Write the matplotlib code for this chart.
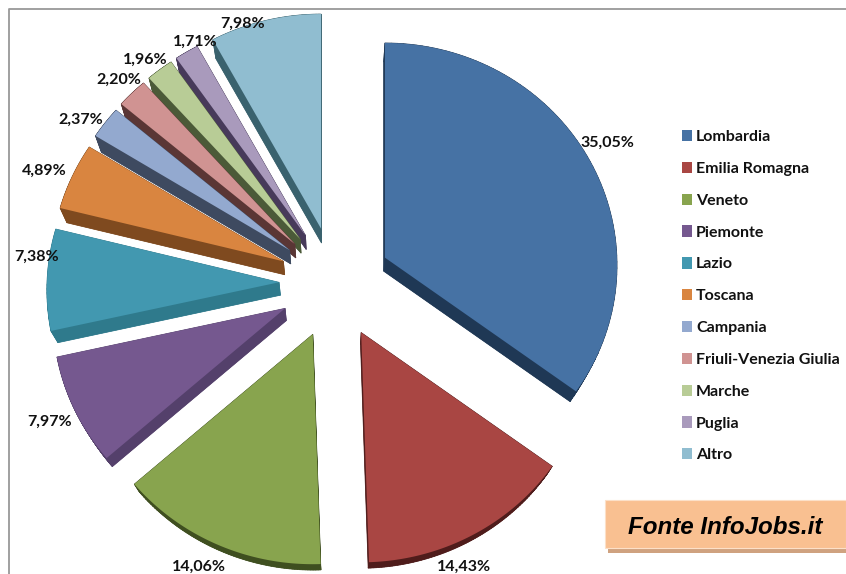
import numpy as np
import matplotlib
matplotlib.use("Agg")
import matplotlib.pyplot as plt
from matplotlib.patches import Patch, Rectangle

regions = ["Lombardia", "Emilia Romagna", "Veneto", "Piemonte", "Lazio", "Toscana",
           "Campania", "Friuli-Venezia Giulia", "Marche", "Puglia", "Altro"]
shares = [35.05, 14.43, 14.06, 7.97, 7.38, 4.89, 2.37, 2.20, 1.96, 1.71, 7.98]
top_colors = ["#4672A4", "#A94643", "#88A44E", "#75588F", "#4298B0", "#D98540",
              "#93A9CF", "#D09392", "#B8CC96", "#A99ABC", "#90BDD0"]
side_colors = ["#1F3855", "#4F1C1B", "#3F4F20", "#54406B", "#2F7A8C", "#7F4A1F",
               "#3E4A60", "#5A3635", "#4B5A38", "#473A5A", "#3A626E"]
label_xy = [(607, 143), (464, 567), (199, 567), (50, 422), (37, 257), (44, 171),
            (81, 120), (119, 80), (145, 60), (195, 42), (243, 24)]

W, H = 846, 574
CX, CY, EXPLODE = 335, 283, 56
RX, RY, PERSP = 232, 222, 0.034
VY, K = 800, 0.025

fig = plt.figure(figsize=(W / 100, H / 100), dpi=100)
ax = fig.add_axes([0, 0, 1, 1])
ax.set_xlim(0, W)
ax.set_ylim(H, 0)
ax.axis("off")

# frame
ax.plot([8.5, 8.5, 846], [574, 8.5, 8.5], color="#999999", lw=1.3, zorder=0)

font = "Lato"


def project(ax0, ay0, ang):
    u, v = np.sin(ang), -np.cos(ang)
    w = 1 - PERSP * v
    return ax0 + RX * u / w, ay0 + RY * v / w


def extrude(x, y):
    return x + K * (CX - x), y + K * (VY - y)


total = sum(shares)
edges = np.radians(np.cumsum([0] + shares) / total * 360)
slices = []
for i, s in enumerate(shares):
    a0, a1 = edges[i], edges[i + 1]
    m = (a0 + a1) / 2
    ax0 = CX + EXPLODE * np.sin(m)
    ay0 = CY - EXPLODE * np.cos(m)
    angs = np.linspace(a0, a1, 80)
    ox, oy = project(ax0, ay0, angs)
    px = np.r_[ax0, ox]
    py = np.r_[ay0, oy]
    slices.append((ay0 + RY * (-np.cos(m)), i, px, py))

# back-to-front: upper slices first
for _, i, px, py in sorted(slices, key=lambda t: t[0]):
    qx, qy = extrude(px, py)
    n = len(px)
    for j in range(n):
        k = (j + 1) % n
        ax.fill([px[j], px[k], qx[k], qx[j]], [py[j], py[k], qy[k], qy[j]],
                color=side_colors[i], lw=0.5, zorder=2)
    ax.fill(qx, qy, color=side_colors[i], lw=0, zorder=2)
    ax.fill(px, py, color=top_colors[i], lw=0, zorder=2)

for s, (x, y) in zip(shares, label_xy):
    ax.text(x, y, f"{s:.2f}%".replace(".", ","), ha="center", va="center",
            fontsize=11.5, fontweight="bold", family=font, color="#111111", zorder=5)

handles = [Patch(facecolor=c, edgecolor="none", label=r) for c, r in zip(top_colors, regions)]
leg = ax.legend(handles=handles, loc="upper left", bbox_to_anchor=(682 / W, 1 - 130 / H),
                bbox_transform=fig.transFigure, frameon=False, borderpad=0, borderaxespad=0,
                handlelength=0.63, handleheight=0.7, handletextpad=0.24,
                labelspacing=1.105,
                prop={"family": font, "weight": "bold", "size": 11.5})
for t in leg.get_texts():
    t.set_color("#111111")

# source box
ax.add_patch(Rectangle((608, 505), 238, 48, facecolor="#CFA280", edgecolor="none", zorder=3))
ax.add_patch(Rectangle((605, 500), 241, 48, facecolor="#F9C091", edgecolor="#FCE0C8", lw=0.8, zorder=4))
ax.text(725, 528, "Fonte InfoJobs.it", ha="center", va="center", fontsize=17.4,
        fontweight="bold", style="italic", family="Liberation Sans", color="black", zorder=5)

fig.savefig("out.png", dpi=100)
